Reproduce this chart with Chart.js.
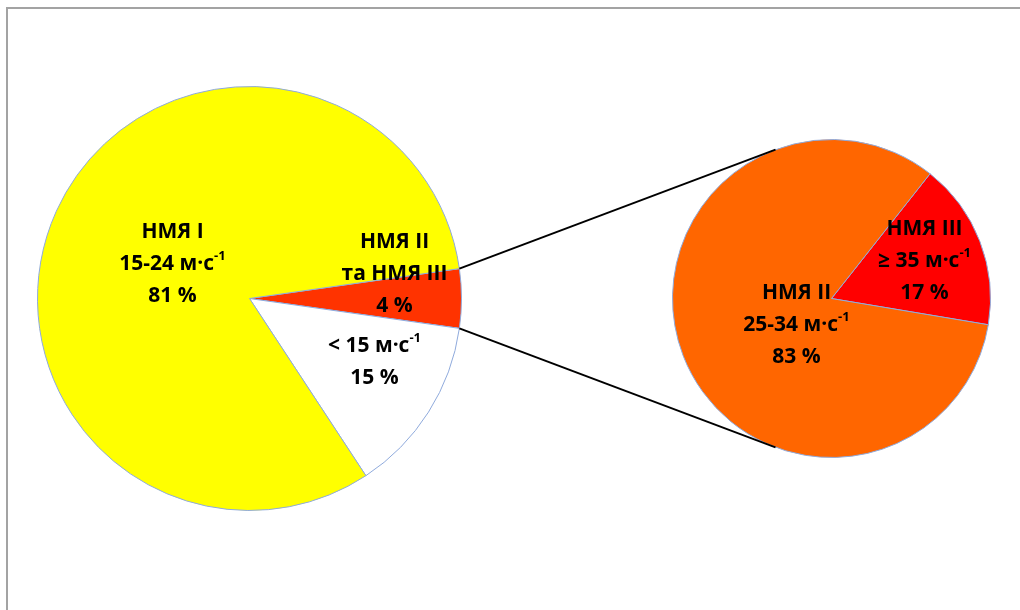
<!DOCTYPE html>
<html>
<head>
<meta charset="utf-8">
<script src="https://cdn.jsdelivr.net/npm/chart.js@4.4.1/dist/chart.umd.min.js"></script>
<style>
  html, body { margin: 0; padding: 0; background: #fff; overflow: hidden; }
  body { width: 1020px; height: 610px; position: relative; }
  .fl { position: absolute; background: #a3a3a3; }
  #ftop { left: 6px; top: 7px; width: 1014px; height: 2px; }
  #fleft { left: 6px; top: 7px; width: 2px; height: 603px; }
  canvas { position: absolute; }
  #leftPie { left: 37px; top: 86px; }
  #rightPie { left: 672px; top: 139px; }
  #overlay { left: 0; top: 0; pointer-events: none; }
</style>
</head>
<body>
<div class="fl" id="ftop"></div>
<div class="fl" id="fleft"></div>
<canvas id="leftPie" width="425" height="425"></canvas>
<canvas id="rightPie" width="319" height="319"></canvas>
<canvas id="overlay" width="1020" height="610"></canvas>
<script>
// ---- data (primary pie) ----
const leftCategories = ['НМЯ II та НМЯ III', '< 15 м·с-1', 'НМЯ I'];
const leftValues = [4.5, 13.5, 82];
const leftLabelLines = [
  ['НМЯ II', 'та НМЯ III', '4 %'],
  ['< 15 м·с^-1', '15 %'],
  ['НМЯ I', '15-24 м·с^-1', '81 %']
];
// ---- data (secondary pie: breakdown of НМЯ II та НМЯ III) ----
const rightCategories = ['НМЯ III', 'НМЯ II'];
const rightValues = [17, 83];
const rightLabelLines = [
  ['НМЯ III', '≥ 35 м·с^-1', '17 %'],
  ['НМЯ II', '25-34 м·с^-1', '83 %']
];

// ---- styles ----
const leftColors = ['#FF3300', '#FFFFFF', '#FFFF00'];
const rightColors = ['#FF0000', '#FF6600'];
const borderCol = '#8FAADC';
const FONT = '"Open Sans", "DejaVu Sans", sans-serif';
const FS = 21, SUP = 13, LH = 32;
// label anchor offsets (px from pie centre) for the first line centre
const leftLabelPos = [[145, -56], [125, 48], [-77, -66]];
const rightLabelPos = [[93, -69], [-35, -5]];

function drawRich(ctx, text, cx, cy) {
  const parts = text.split('^');
  ctx.font = 'bold ' + FS + 'px ' + FONT;
  const w0 = ctx.measureText(parts[0]).width;
  let w1 = 0;
  if (parts[1]) { ctx.font = 'bold ' + SUP + 'px ' + FONT; w1 = ctx.measureText(parts[1]).width; }
  let x = cx - (w0 + w1) / 2;
  ctx.textAlign = 'left';
  ctx.textBaseline = 'middle';
  ctx.fillStyle = '#000';
  ctx.font = 'bold ' + FS + 'px ' + FONT;
  ctx.fillText(parts[0], x, cy);
  if (parts[1]) {
    ctx.font = 'bold ' + SUP + 'px ' + FONT;
    ctx.fillText(parts[1], x + w0, cy - 8);
  }
}

const labelPlugin = {
  id: 'sliceLabels',
  afterDraw(chart, args, opts) {
    const meta = chart.getDatasetMeta(0);
    const ctx = chart.ctx;
    const arc0 = meta.data[0];
    ctx.save();
    opts.lines.forEach((lines, i) => {
      const [dx, dy] = opts.pos[i];
      lines.forEach((t, k) => drawRich(ctx, t, arc0.x + dx, arc0.y + dy + k * LH));
    });
    ctx.restore();
  }
};

function pieConfig(labels, values, colors, rotation, lines, pos) {
  return {
    type: 'pie',
    data: { labels: labels, datasets: [{ data: values, backgroundColor: colors,
      borderColor: borderCol, borderWidth: 1 }] },
    options: {
      responsive: false, animation: false, rotation: rotation,
      layout: { padding: 0 },
      plugins: { legend: { display: false }, tooltip: { enabled: false },
        sliceLabels: { lines: lines, pos: pos } }
    },
    plugins: [labelPlugin]
  };
}

const leftChart = new Chart(document.getElementById('leftPie'),
  pieConfig(leftCategories, leftValues, leftColors, 81.9, leftLabelLines, leftLabelPos));
const rightChart = new Chart(document.getElementById('rightPie'),
  pieConfig(rightCategories, rightValues, rightColors, 38.3, rightLabelLines, rightLabelPos));

// ---- connector lines (tangent from the split slice edges to secondary pie) ----
(function () {
  const lc = document.getElementById('leftPie'), rc = document.getElementById('rightPie');
  const la = leftChart.getDatasetMeta(0).data[0];
  const ra = rightChart.getDatasetMeta(0).data[0];
  const L = { x: lc.offsetLeft + la.x, y: lc.offsetTop + la.y, r: la.outerRadius };
  const R = { x: rc.offsetLeft + ra.x, y: rc.offsetTop + ra.y, r: ra.outerRadius };
  const ctx = document.getElementById('overlay').getContext('2d');
  ctx.strokeStyle = '#000';
  ctx.lineWidth = 2;
  [[la.startAngle, -1], [la.endAngle, 1]].forEach(([ang, side]) => {
    const px = L.x + L.r * Math.cos(ang), py = L.y + L.r * Math.sin(ang);
    const dx = px - R.x, dy = py - R.y, d = Math.hypot(dx, dy);
    const base = Math.atan2(dy, dx), off = Math.acos(R.r / d);
    const t = base - side * off;
    const tx = R.x + R.r * Math.cos(t), ty = R.y + R.r * Math.sin(t);
    ctx.beginPath(); ctx.moveTo(px, py); ctx.lineTo(tx, ty); ctx.stroke();
  });
})();
</script>
</body>
</html>
